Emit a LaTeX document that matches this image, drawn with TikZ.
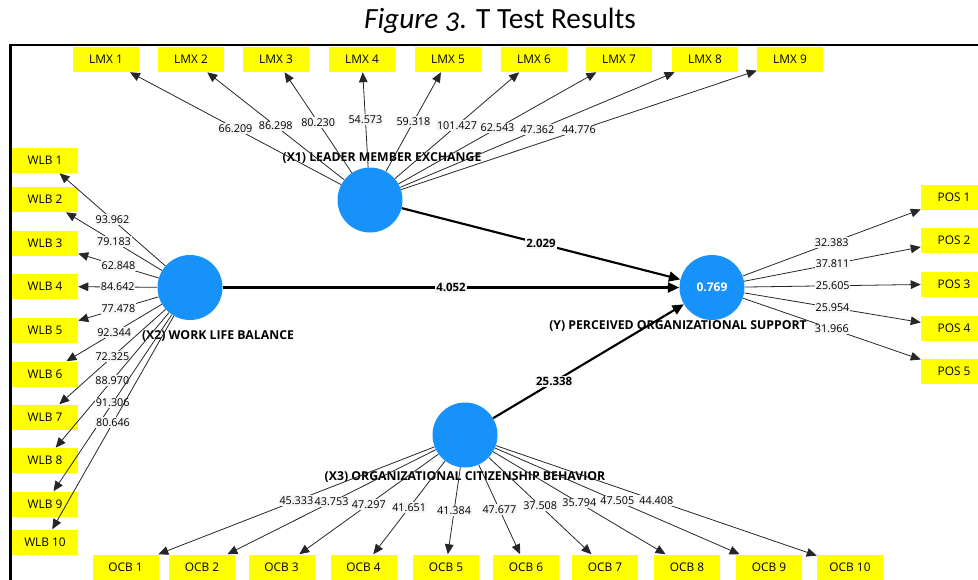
\documentclass[tikz,border=0pt]{standalone}
\usepackage{fontspec}
\setmainfont{Open Sans}
\newfontfamily\titlefont[Numbers=OldStyle]{Carlito}
\usetikzlibrary{arrows.meta}
\definecolor{latent}{RGB}{22,146,250}
\definecolor{indicator}{RGB}{255,255,0}
\definecolor{labelbg}{RGB}{246,246,246}

\begin{document}
\begin{tikzpicture}[x=0.75pt,y=-0.75pt,
  item/.style={rectangle, fill=indicator, minimum width=49.5pt, minimum height=18.75pt,
    inner sep=0pt, font=\fontsize{8.9}{10}\selectfont},
  construct/.style={circle, fill=latent, minimum size=48.75pt, inner sep=0pt},
  cname/.style={font=\bfseries\fontsize{9.2}{10}\selectfont},
  load/.style={draw=black!85, line width=0.6pt, -{Triangle[length=7.5pt,width=6.5pt]}},
  struct/.style={draw=black, line width=1.6pt, -{Triangle[length=8.5pt,width=7.5pt]}},
  val/.style={fill=labelbg, inner xsep=0.5pt, inner ysep=1pt, font=\fontsize{8.1}{10}\selectfont},
  pval/.style={fill=labelbg, inner xsep=0.8pt, inner ysep=1pt, font=\bfseries\fontsize{8.6}{10}\selectfont},
]
\useasboundingbox (0,0) rectangle (978,579);
\clip (0,0) rectangle (978,579);

% caption and frame
\node[anchor=base, font=\titlefont\fontsize{22}{24}\selectfont] (title) at (500,28)
  {\textit{Figure 3.} T Test Results};
\draw[line width=2pt] (10.5,45) rectangle (1010,620);

% latent constructs
\node[construct] (lmx) at (370,200) {};
\node[construct] (wlb) at (190,287.5) {};
\node[construct] (pos) at (712,287.5) {\color{white}\bfseries\fontsize{9}{10}\selectfont 0.769};
\node[construct] (ocb) at (465,435) {};

\node[cname] (lmxname) at (382,158) {(X1) LEADER MEMBER EXCHANGE};
\node[cname] (wlbname) at (218,336) {(X2) WORK LIFE BALANCE};
\node[cname] (posname) at (678,326) {(Y) PERCEIVED ORGANIZATIONAL SUPPORT};
\node[cname] (ocbname) at (465,477) {(X3) ORGANIZATIONAL CITIZENSHIP BEHAVIOR};

% indicators
\foreach \x [count=\i] in {106,191,276,362,448,534,619,705,790}
  \node[item] (l\i) at (\x,59.5) {LMX \i};
\foreach \y [count=\i] in {160.5,199.5,243.5,286.5,330.5,374,417,460.5,504,542}
  \node[item] (w\i) at (45,\y) {WLB \i};
\foreach \x [count=\i] in {125.5,202,281.5,363.5,446,526,605,687,769,850}
  \node[item] (o\i) at (\x,567) {OCB \i};
\foreach \y [count=\i] in {197,240.5,284,328,371}
  \node[item] (p\i) at (954,\y) {POS \i};

% outer model
\foreach \v [count=\i] in {66.209,86.298,80.230,54.573,59.318,101.427,62.543,47.362,44.776}
  \draw[load] (lmx) -- node[val] {\v} (l\i);
\foreach \v [count=\i] in {93.962,79.183,62.848,84.642,77.478,92.344,72.325,88.970,91.306,80.646}
  \draw[load] (wlb) -- node[val] {\v} (w\i);
\foreach \v [count=\i] in {45.333,43.753,47.297,41.651,41.384,47.677,37.508,35.794,47.505,44.408}
  \draw[load] (ocb) -- node[val] {\v} (o\i);
\foreach \v [count=\i] in {32.383,37.811,25.605,25.954,31.966}
  \draw[load] (pos) -- node[val] {\v} (p\i);

% inner model
\draw[struct] (lmx) -- node[pval] {2.029} (pos);
\draw[struct] (wlb) -- node[pval] {4.052} (pos);
\draw[struct] (ocb) -- node[pval, pos=0.32] {25.338} (pos);
\end{tikzpicture}
\end{document}
